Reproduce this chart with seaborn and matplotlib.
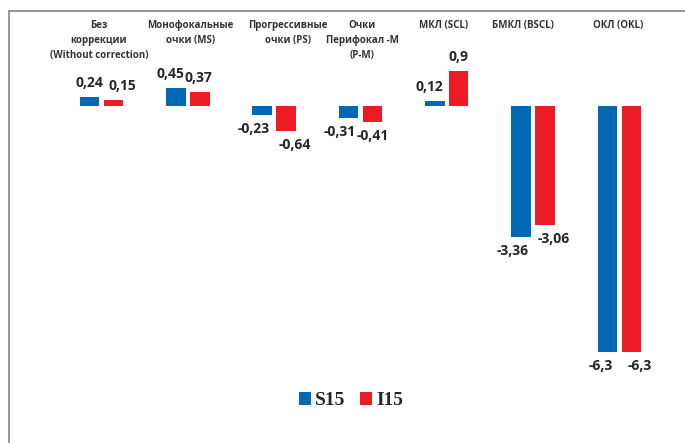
import numpy as np
import pandas as pd
import matplotlib
matplotlib.use("Agg")
import matplotlib.pyplot as plt
import matplotlib.transforms as mtransforms
from matplotlib.lines import Line2D
import seaborn as sns

# Correction methods (column headers) and the two series
categories = [
    "Без\nкоррекции\n(Without correction)",
    "Монофокальные\nочки (MS)",
    "Прогрессивные\nочки (PS)",
    "Очки\nПерифокал -М\n(P-M)",
    "МКЛ (SCL)",
    "БМКЛ (BSCL)",
    "ОКЛ (OKL)",
]
series_names = ["S15", "I15"]
s15_values = [0.24, 0.45, -0.23, -0.31, 0.12, -3.36, -6.3]
i15_values = [0.15, 0.37, -0.64, -0.41, 0.9, -3.06, -6.3]

colors = ["#0068b4", "#ed1c24"]

df = pd.DataFrame({
    "category": categories * 2,
    "series": [series_names[0]] * len(categories) + [series_names[1]] * len(categories),
    "value": s15_values + i15_values,
})

sns.set_theme(style="white")
plt.rcParams["font.family"] = ["Open Sans", "DejaVu Sans"]

W, H = 685, 443
fig = plt.figure(figsize=(W / 100, H / 100), dpi=100)
fig.patch.set_facecolor("white")

# axes placed so that category 0..6 spans the plot width and zero sits near the top
ax_left, ax_right = 58.4 / W, 662.5 / W
ax = fig.add_axes([ax_left, 0.0, ax_right - ax_left, 1 - 11 / H])

sns.barplot(
    data=df, x="category", y="value", hue="series",
    palette=colors, width=0.556, gap=0.187, ax=ax,
    saturation=1, linewidth=0, legend=True,
)
ax.set_xlim(-0.5, 6.5)
ax.set_ylim(-8.63, 2.433)
ax.axis("off")

# value labels, spread slightly outward from each pair
label_dx = [[0, -4, -6, -6, -4, -6, -5], [6, -1, 6, 0, 0, 6, 6]]
series_values = [s15_values, i15_values]
for k, cont in enumerate(ax.containers):
    for j, bar in enumerate(cont):
        v = series_values[k][j]
        xc = bar.get_x() + bar.get_width() / 2
        up = v >= 0
        ax.annotate(str(v).replace(".", ","), (xc, v),
                    xytext=(label_dx[k][j], 5 if up else -5), textcoords="offset points",
                    ha="center", va="bottom" if up else "top",
                    fontsize=10, fontweight="bold", color="#262626")

# category headers along the top
trans = mtransforms.blended_transform_factory(ax.transData, fig.transFigure)
head_dx = [-0.03, 0.03, 0.16, 0.02, -0.04, -0.12, -0.01]
for i, name in enumerate(categories):
    ax.text(i + head_dx[i], 1 - 20 / H, name, transform=trans,
            ha="center", va="top", fontsize=7, fontweight="bold",
            color="#333333", linespacing=1.5)

# legend below the bars
leg = ax.legend(
    loc="center", bbox_to_anchor=(351 / W, 1 - 400.7 / H),
    bbox_transform=fig.transFigure, ncol=2, frameon=False,
    prop={"family": "Liberation Serif", "weight": "bold", "size": 14},
    handlelength=0.6, handleheight=0.6, handletextpad=0.2,
    columnspacing=0.8, borderaxespad=0,
)
for t in leg.get_texts():
    t.set_color("#262626")

# outer frame lines (top and left)
fx = 8.5 / W
fy = 1 - 11 / H
fig.add_artist(Line2D([fx, fx], [0, fy], color="#8c8c8c", lw=1.3, transform=fig.transFigure))
fig.add_artist(Line2D([fx, 1], [fy, fy], color="#8c8c8c", lw=1.3, transform=fig.transFigure))

fig.savefig("out.png", dpi=100, facecolor="white")
